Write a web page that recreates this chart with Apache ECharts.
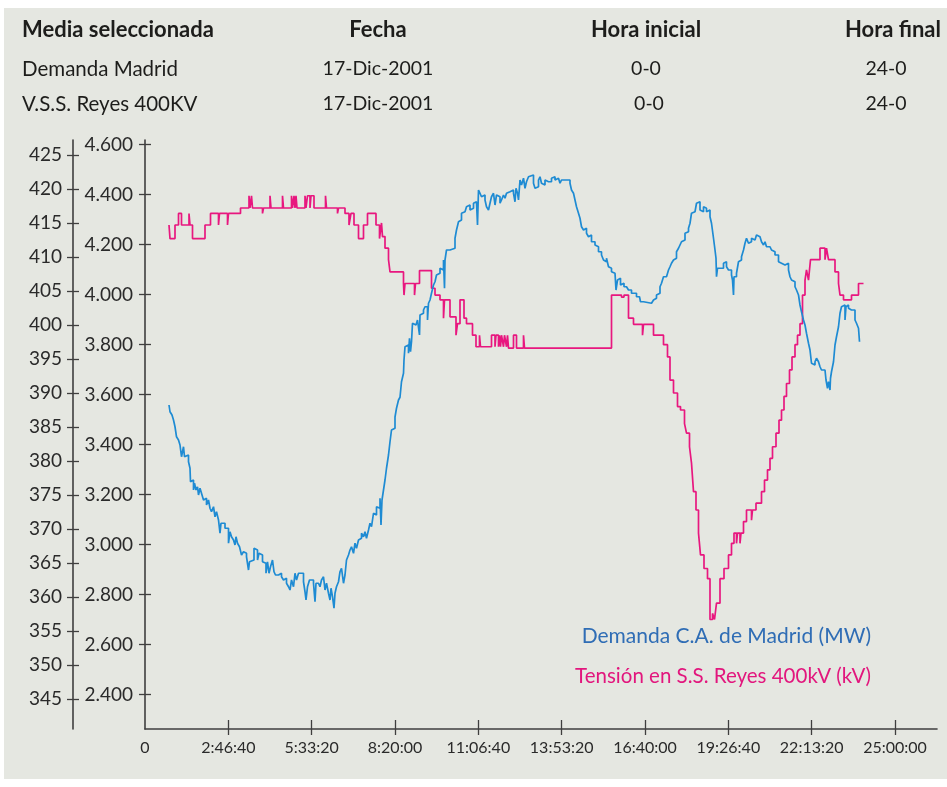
<!DOCTYPE html>
<html>
<head>
<meta charset="utf-8">
<script src="https://cdn.jsdelivr.net/npm/echarts@6/dist/echarts.min.js"></script>
<style>
  html, body { margin: 0; padding: 0; background: #ffffff; }
  #chart { width: 947px; height: 787px; }
</style>
</head>
<body>
<div id="chart"></div>
<script>
// Axis ticks
const tiempoTicks = [0, 10000, 20000, 30000, 40000, 50000, 60000, 70000, 80000, 90000]; // seconds
const demandaTicks = [2400, 2600, 2800, 3000, 3200, 3400, 3600, 3800, 4000, 4200, 4400, 4600]; // MW
const tensionTicks = [345, 350, 355, 360, 365, 370, 375, 380, 385, 390, 395, 400, 405, 410, 415, 420, 425]; // kV

// Tensión en S.S. Reyes 400 kV: minute of day where each level starts, and level (kV)
const tensionMinutos = [
  48, 50, 60, 67, 73, 88, 90, 95, 120, 131, 147, 149, 165, 167, 191, 208, 210, 213, 215, 235,
  237, 250, 252, 275, 277, 293, 295, 298, 300, 302, 304, 320, 322, 325, 330, 332, 338, 361, 363, 385,
  387, 400, 408, 412, 418, 427, 437, 445, 462, 469, 473, 475, 480, 487, 490, 517, 518, 520, 539, 541,
  549, 573, 580, 590, 597, 599, 610, 622, 625, 630, 638, 643, 655, 662, 669, 671, 693, 700, 702, 707,
  709, 711, 713, 717, 719, 723, 725, 727, 737, 743, 757, 759, 933, 953, 958, 967, 977, 995, 997, 1017,
  1037, 1045, 1050, 1057, 1065, 1071, 1079, 1083, 1089, 1093, 1097, 1102, 1107, 1111, 1118, 1125, 1130, 1135, 1139, 1143,
  1150, 1158, 1167, 1173, 1178, 1183, 1185, 1190, 1192, 1197, 1203, 1213, 1215, 1222, 1233, 1239, 1245, 1250, 1255, 1262,
  1268, 1273, 1278, 1283, 1289, 1294, 1300, 1305, 1310, 1315, 1320, 1323, 1327, 1329, 1331, 1350, 1360, 1363, 1367, 1380,
  1387, 1390, 1397, 1413, 1427, 1437
];
const tensionKV = [
  414.7, 412.7, 414.7, 416.4, 414.7, 416.4, 414.7, 412.7, 414.7, 416.4, 414.7, 416.4, 414.7, 416.4, 417.2, 419.0, 417.2, 419.0, 417.2, 416.4,
  417.2, 419.0, 417.2, 419.0, 417.2, 419.0, 417.2, 419.0, 417.2, 419.0, 417.2, 419.0, 417.2, 419.0, 417.2, 419.0, 417.2, 419.0, 417.2, 416.4,
  417.2, 416.4, 414.7, 416.4, 414.7, 412.7, 414.7, 416.4, 414.7, 412.7, 415.0, 413.0, 411.3, 409.6, 407.8, 406.1, 404.4, 406.1, 404.4, 406.1,
  408.0, 405.4, 404.4, 403.7, 401.0, 403.7, 401.2, 398.5, 400.2, 403.7, 401.0, 400.2, 398.5, 396.8, 398.5, 396.8, 398.5, 396.8, 398.5, 396.8,
  398.5, 396.8, 398.5, 396.8, 398.5, 396.8, 398.5, 396.6, 398.5, 396.6, 398.5, 396.6, 404.4, 404.1, 404.4, 401.0, 400.1, 398.5, 400.1, 398.5,
  397.1, 395.3, 391.9, 390.0, 388.0, 387.5, 385.5, 384.1, 382.1, 379.7, 375.5, 372.8, 369.4, 366.2, 364.2, 362.7, 356.7, 357.6, 356.7, 359.1,
  362.7, 364.2, 366.2, 367.9, 369.4, 367.9, 369.4, 367.9, 369.4, 371.1, 372.8, 371.3, 372.8, 373.8, 375.5, 377.2, 378.7, 380.4, 382.1, 384.1,
  386.0, 387.5, 389.5, 391.4, 393.4, 395.3, 397.1, 398.5, 400.2, 404.4, 406.6, 408.1, 406.6, 408.1, 409.6, 411.3, 409.6, 411.3, 409.6, 407.8,
  406.1, 404.4, 403.7, 404.4, 406.1, 406.1
];

// Demanda C.A. de Madrid: minute of day where each reading starts, and demand (MW)
const demandaMinutos = [
  48, 50, 54, 57, 60, 63, 67, 70, 73, 77, 79, 83, 87, 90, 91, 94, 97, 99, 102, 105,
  107, 110, 113, 117, 120, 123, 127, 130, 133, 137, 140, 143, 147, 150, 152, 160, 167, 170, 173, 177,
  180, 182, 185, 189, 193, 197, 200, 203, 207, 209, 213, 218, 222, 225, 228, 232, 235, 239, 242, 245,
  248, 251, 255, 258, 261, 267, 273, 277, 280, 283, 287, 290, 293, 297, 300, 303, 307, 317, 320, 322,
  325, 329, 337, 340, 342, 347, 350, 353, 357, 360, 363, 367, 370, 372, 375, 378, 380, 383, 387, 390,
  393, 397, 400, 403, 407, 410, 413, 417, 420, 423, 427, 430, 433, 437, 440, 443, 447, 450, 453, 457,
  460, 463, 467, 470, 472, 474, 477, 480, 483, 487, 490, 493, 497, 500, 503, 507, 510, 513, 517, 518,
  520, 523, 527, 529, 531, 533, 535, 539, 542, 545, 549, 550, 553, 557, 560, 565, 567, 570, 573, 577,
  580, 583, 587, 590, 593, 597, 599, 600, 603, 610, 620, 623, 627, 630, 633, 637, 640, 643, 647, 650,
  653, 657, 660, 663, 665, 667, 670, 673, 677, 680, 683, 687, 690, 693, 697, 700, 703, 707, 710, 713,
  717, 720, 723, 727, 730, 733, 737, 740, 742, 745, 747, 750, 753, 757, 760, 763, 767, 770, 777, 780,
  783, 787, 790, 793, 797, 800, 803, 807, 810, 813, 817, 820, 823, 827, 830, 833, 850, 853, 857, 860,
  863, 867, 870, 873, 877, 880, 883, 887, 890, 893, 900, 903, 907, 913, 917, 920, 923, 927, 930, 933,
  937, 940, 942, 945, 949, 951, 955, 958, 963, 967, 973, 983, 989, 991, 997, 1013, 1017, 1020, 1023, 1027,
  1030, 1033, 1037, 1043, 1047, 1050, 1053, 1057, 1060, 1063, 1067, 1070, 1073, 1077, 1080, 1083, 1087, 1090, 1093, 1097,
  1100, 1103, 1107, 1110, 1113, 1117, 1120, 1123, 1127, 1130, 1133, 1137, 1140, 1142, 1143, 1145, 1150, 1153, 1157, 1160,
  1163, 1167, 1173, 1175, 1177, 1178, 1183, 1187, 1190, 1193, 1197, 1200, 1203, 1207, 1210, 1213, 1217, 1220, 1223, 1227,
  1230, 1233, 1237, 1240, 1243, 1250, 1253, 1257, 1260, 1267, 1270, 1273, 1280, 1283, 1287, 1290, 1293, 1297, 1300, 1303,
  1307, 1310, 1313, 1317, 1320, 1323, 1327, 1330, 1333, 1337, 1340, 1343, 1347, 1350, 1353, 1360, 1362, 1363, 1365, 1367,
  1369, 1370, 1371, 1373, 1377, 1380, 1383, 1387, 1390, 1393, 1397, 1400, 1402, 1403, 1407, 1410, 1413, 1417, 1420, 1423,
  1427, 1429
];
const demandaMW = [
  3558, 3531, 3518, 3498, 3471, 3431, 3418, 3398, 3351, 3391, 3351, 3358, 3331, 3305, 3251, 3258, 3218, 3245, 3218, 3231,
  3198, 3225, 3205, 3178, 3185, 3158, 3178, 3145, 3131, 3151, 3111, 3131, 3098, 3045, 3085, 3065, 3005, 3051, 3031, 3018,
  2998, 3031, 3005, 2991, 2958, 2971, 2965, 2951, 2898, 2931, 2938, 2985, 2978, 2938, 2965, 2958, 2931, 2925, 2885, 2931,
  2885, 2911, 2938, 2891, 2878, 2885, 2871, 2858, 2865, 2845, 2831, 2818, 2858, 2831, 2885, 2858, 2885, 2851, 2811, 2778,
  2831, 2858, 2845, 2771, 2845, 2851, 2831, 2858, 2871, 2818, 2845, 2805, 2778, 2825, 2791, 2745, 2805, 2831, 2851, 2891,
  2905, 2845, 2878, 2938, 2958, 2978, 2991, 2965, 3005, 2985, 3018, 3025, 3045, 3031, 3051, 3025, 3058, 3085, 3071, 3125,
  3118, 3151, 3145, 3185, 3078, 3178, 3218, 3258, 3305, 3358, 3411, 3458, 3465, 3510, 3545, 3578, 3589, 3651, 3685, 3738,
  3791, 3798, 3765, 3825, 3771, 3811, 3885, 3878, 3871, 3898, 3838, 3918, 3925, 3938, 3951, 3898, 3965, 3978, 4005, 4038,
  4051, 4078, 4085, 4105, 4098, 4138, 4025, 4138, 4178, 4185, 4225, 4258, 4291, 4298, 4325, 4331, 4338, 4351, 4358, 4338,
  4345, 4365, 4371, 4378, 4278, 4418, 4405, 4391, 4398, 4378, 4351, 4338, 4365, 4391, 4405, 4358, 4398, 4391, 4365, 4378,
  4398, 4385, 4405, 4411, 4405, 4418, 4405, 4371, 4425, 4405, 4378, 4458, 4438, 4465, 4425, 4451, 4471, 4478, 4445, 4425,
  4431, 4458, 4471, 4445, 4438, 4458, 4451, 4458, 4451, 4465, 4471, 4458, 4465, 4458, 4445, 4458, 4445, 4418, 4405, 4378,
  4351, 4325, 4305, 4271, 4258, 4265, 4245, 4231, 4238, 4211, 4198, 4191, 4171, 4158, 4138, 4131, 4145, 4111, 4105, 4091,
  4085, 4078, 4018, 4058, 4065, 4038, 4045, 4031, 4025, 4018, 4005, 3991, 3985, 3971, 3965, 3971, 3978, 3985, 3998, 4005,
  4031, 4045, 4071, 4078, 4098, 4111, 4125, 4138, 4145, 4171, 4185, 4198, 4211, 4218, 4245, 4251, 4265, 4285, 4325, 4331,
  4338, 4365, 4371, 4338, 4331, 4351, 4345, 4331, 4338, 4311, 4285, 4225, 4178, 4145, 4071, 4105, 4111, 4105, 4125, 4131,
  4111, 4098, 4078, 4058, 3998, 4071, 4085, 4131, 4138, 4151, 4178, 4205, 4225, 4205, 4211, 4225, 4218, 4225, 4238, 4231,
  4225, 4211, 4198, 4211, 4191, 4185, 4178, 4171, 4158, 4131, 4125, 4118, 4111, 4125, 4098, 4071, 4058, 4051, 4031, 4018,
  3998, 3958, 3931, 3898, 3878, 3845, 3805, 3778, 3725, 3718, 3731, 3745, 3731, 3711, 3698, 3691, 3658, 3651, 3625, 3651,
  3631, 3618, 3665, 3691, 3731, 3798, 3831, 3871, 3925, 3951, 3958, 3898, 3951, 3958, 3945, 3938, 3945, 3938, 3898, 3885,
  3865, 3811
];

const AZUL = '#1e8bd3';
const ROSA = '#e8177f';
const TINTA = '#2a2a2a';
const EJE = '#3f3f3f';
const FUENTE = 'Lato, "Open Sans", sans-serif';

const pad2 = n => (n < 10 ? '0' : '') + n;
const fmtTiempo = s => {
  if (s === 0) return '0';
  const h = Math.floor(s / 3600), m = Math.floor((s % 3600) / 60), ss = s % 60;
  return h + ':' + pad2(m) + ':' + pad2(ss);
};
const fmtMiles = v => (v / 1000).toFixed(3);

const serieDemanda = demandaMinutos.map((m, i) => [m * 60, demandaMW[i]]);
const serieTension = tensionMinutos.map((m, i) => [m * 60, tensionKV[i]]);

// Header table: selected measurements with date and hour range
const cabecera = [
  ['Media seleccionada', 'Fecha', 'Hora inicial', 'Hora final'],
  ['Demanda Madrid', '17-Dic-2001', '0-0', '24-0'],
  ['V.S.S. Reyes 400KV', '17-Dic-2001', '0-0', '24-0']
];
const filaY = [30, 69, 104];
const colX = [[22, 'left'], [378, 'center'], [646, 'center'], [886, 'center']];

const textos = [];
cabecera.forEach((fila, r) => {
  fila.forEach((t, c) => {
    let x = colX[c][0], align = colX[c][1];
    if (r === 0 && c === 3) { x = 941; align = 'right'; }
    if (r === 2 && c === 2) { x = 649; }
    let size = r === 0 ? 22 : (c === 0 ? 20.5 : 19.5);
    textos.push({
      type: 'text', x: x, y: filaY[r], silent: true,
      style: {
        text: t, fill: '#1d1d1b', textAlign: align, textVerticalAlign: 'middle',
        fontFamily: FUENTE, fontSize: size, fontWeight: r === 0 ? 'bold' : 'normal'
      }
    });
  });
});

// Series captions, right-aligned under the curves
textos.push({
  type: 'text', x: 871, y: 636, silent: true,
  style: { text: 'Demanda C.A. de Madrid (MW)', fill: '#2f6db5', textAlign: 'right', textVerticalAlign: 'middle', fontFamily: FUENTE, fontSize: 21 }
});
textos.push({
  type: 'text', x: 871, y: 676, silent: true,
  style: { text: 'Tensión en S.S. Reyes 400kV (kV)', fill: '#e2167d', textAlign: 'right', textVerticalAlign: 'middle', fontFamily: FUENTE, fontSize: 20.5 }
});

const tickStyle = { color: EJE, width: 1.3 };
const labelBase = { color: TINTA, fontFamily: FUENTE };
const ticksTiempo = tiempoTicks.filter(v => v > 0);

const option = {
  animation: false,
  backgroundColor: '#ffffff',
  graphic: [
    { type: 'rect', z: -100, silent: true, shape: { x: 4, y: 8, width: 943, height: 771 }, style: { fill: '#e5e7e1' } }
  ].concat(textos),
  grid: { left: 145, top: 140, width: 792, height: 589, containLabel: false },
  xAxis: [
    {
      type: 'value', min: 0, max: 95040, position: 'bottom',
      axisLine: { show: true, lineStyle: { color: EJE, width: 1.6 } },
      axisTick: { show: true, customValues: ticksTiempo, length: 6, lineStyle: tickStyle },
      axisLabel: Object.assign({ customValues: tiempoTicks, formatter: fmtTiempo, margin: 11, fontSize: 16 }, labelBase),
      splitLine: { show: false }
    },
    {
      type: 'value', min: 0, max: 95040, position: 'bottom',
      axisLine: { show: false },
      axisTick: { show: true, inside: true, customValues: ticksTiempo, length: 9, lineStyle: tickStyle },
      axisLabel: { show: false },
      splitLine: { show: false }
    }
  ],
  yAxis: [
    {
      type: 'value', min: 2262, max: 4618, position: 'left', offset: 0,
      axisLine: { show: true, lineStyle: { color: EJE, width: 1.6 } },
      axisTick: { show: true, customValues: demandaTicks, length: 6, lineStyle: tickStyle },
      axisLabel: Object.assign({ customValues: demandaTicks, formatter: fmtMiles, margin: 12, fontSize: 19 }, labelBase),
      splitLine: { show: false }
    },
    {
      type: 'value', min: 2262, max: 4618, position: 'left', offset: 0,
      axisLine: { show: false },
      axisTick: { show: true, inside: true, customValues: demandaTicks, length: 6, lineStyle: tickStyle },
      axisLabel: { show: false },
      splitLine: { show: false }
    },
    {
      type: 'value', min: 340.6, max: 427.2, position: 'left', offset: 72,
      axisLine: { show: true, lineStyle: { color: EJE, width: 1.6 } },
      axisTick: { show: true, customValues: tensionTicks, length: 6, lineStyle: tickStyle },
      axisLabel: Object.assign({ customValues: tensionTicks, formatter: v => String(v), margin: 11, fontSize: 19 }, labelBase),
      splitLine: { show: false }
    },
    {
      type: 'value', min: 340.6, max: 427.2, position: 'left', offset: 72,
      axisLine: { show: false },
      axisTick: { show: true, inside: true, customValues: tensionTicks, length: 6, lineStyle: tickStyle },
      axisLabel: { show: false },
      splitLine: { show: false }
    }
  ],
  series: [
    {
      name: 'Tensión en S.S. Reyes 400kV (kV)', type: 'line', step: 'end',
      xAxisIndex: 0, yAxisIndex: 2, data: serieTension,
      showSymbol: false, silent: true,
      lineStyle: { color: ROSA, width: 1.7 }
    },
    {
      name: 'Demanda C.A. de Madrid (MW)', type: 'line', step: 'end',
      xAxisIndex: 0, yAxisIndex: 0, data: serieDemanda,
      showSymbol: false, silent: true,
      lineStyle: { color: AZUL, width: 1.7 }
    }
  ]
};

const chart = echarts.init(document.getElementById('chart'), null, { renderer: 'canvas' });
chart.setOption(option);
</script>
</body>
</html>
